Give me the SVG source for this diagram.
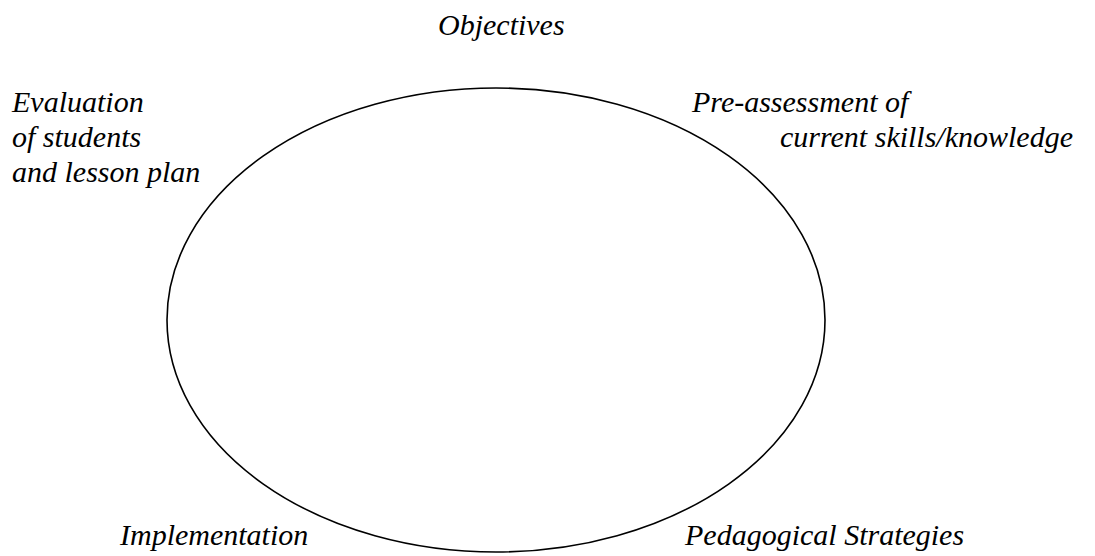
<svg xmlns="http://www.w3.org/2000/svg" width="1095" height="556" viewBox="0 0 1095 556">
<style>
.cyc{fill:none;stroke:#000;stroke-width:1.6}
</style>
<rect width="1095" height="556" fill="#fff"/>
<g id="connectors">
<ellipse class="cyc" cx="496" cy="320" rx="329" ry="232"/>
</g>
<g font-family="Liberation Serif" font-style="italic" font-size="30" fill="#000">
<g id="objectives"><text x="438" y="35">Objectives</text></g>
<g id="evaluation"><text x="12" y="112">Evaluation</text><text x="12" y="147">of students</text><text x="12" y="182">and lesson plan</text></g>
<g id="preassessment"><text x="692" y="112">Pre-assessment of</text><text x="780" y="147">current skills/knowledge</text></g>
<g id="implementation"><text x="120" y="545">Implementation</text></g>
<g id="strategies"><text x="685" y="545">Pedagogical Strategies</text></g>
</g>
</svg>
